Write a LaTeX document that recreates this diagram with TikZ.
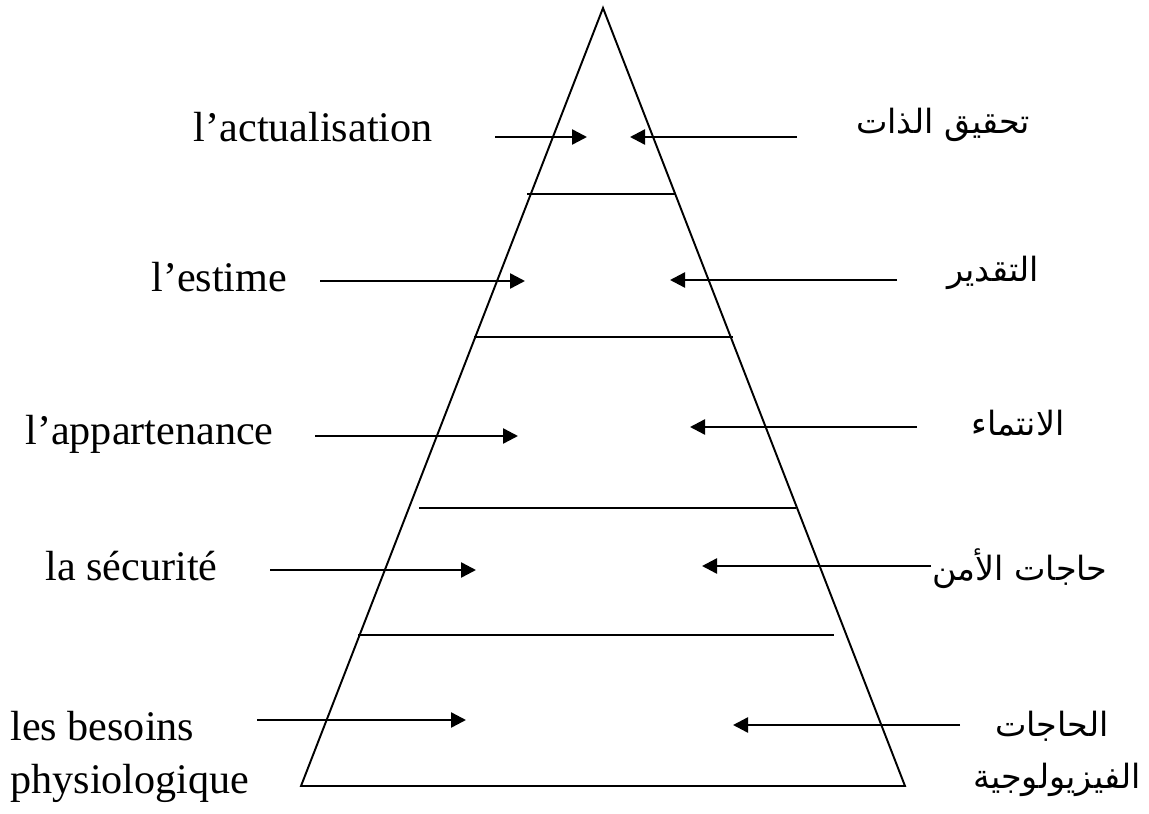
\documentclass[tikz,border=0pt]{standalone}
\usepackage{fontspec}
\setmainfont{Liberation Serif}
\newfontfamily\arabicfont[Script=Arabic]{DejaVu Sans}
\TeXXeTstate=1
\usetikzlibrary{arrows.meta}
\begin{document}
\begin{tikzpicture}[x=0.02cm,y=-0.02cm,
  edge/.style={line width=1.1pt},
  tier/.style={line width=1.2pt},
  pointer/.style={line width=1.4pt,-{Triangle[length=0.3cm,width=0.3cm]}},
  frlabel/.style={font=\fontsize{24}{28}\selectfont, inner sep=0pt},
  arlabel/.style={font=\arabicfont\fontsize{19}{24}\selectfont, inner sep=0pt}]
\useasboundingbox (0,0) rectangle (1149,814);

% pyramid outline
\coordinate (apex) at (603,8);
\coordinate (bl) at (301,786);
\coordinate (br) at (905,786);
\draw[edge] (apex) -- (bl) -- (br) -- cycle;

% separators between the levels
\coordinate (s1l) at (527,194); \coordinate (s1r) at (675,194);
\coordinate (s2l) at (474,337); \coordinate (s2r) at (733,337);
\coordinate (s3l) at (419,508); \coordinate (s3r) at (796,508);
\coordinate (s4l) at (358,635); \coordinate (s4r) at (834,635);
\draw[tier] (s1l) -- (s1r);
\draw[tier] (s2l) -- (s2r);
\draw[tier] (s3l) -- (s3r);
\draw[tier] (s4l) -- (s4r);

% French labels (left)
\node[frlabel, anchor=base east] (fr1) at (433,142) {l’actualisation};
\node[frlabel, anchor=base west] (fr2) at (151,291) {l’estime};
\node[frlabel, anchor=base west] (fr3) at (25,444) {l’appartenance};
\node[frlabel, anchor=base west] (fr4) at (45,580) {la sécurité};
\node[frlabel, anchor=base west] (fr5a) at (10,740) {les besoins};
\node[frlabel, anchor=base west] (fr5b) at (10,793) {physiologique};

% Arabic labels (right)
\node[arlabel] (ar1) at (943,125) {\beginR تحقيق الذات\endR};
\node[arlabel] (ar2) at (993,273) {\beginR التقدير\endR};
\node[arlabel] (ar3) at (1018,423) {\beginR الانتماء\endR};
\node[arlabel] (ar4) at (1020,569) {\beginR حاجات الأمن\endR};
\node[arlabel] (ar5a) at (1052,726) {\beginR الحاجات\endR};
\node[arlabel] (ar5b) at (1057,780) {\beginR الفيزيولوجية\endR};

% arrow ends
\coordinate (la1) at (495,137);  \coordinate (lt1) at (587,137);
\coordinate (ra1) at (797,137);  \coordinate (rt1) at (630,137);
\coordinate (la2) at (320,281);  \coordinate (lt2) at (525,281);
\coordinate (ra2) at (897,280);  \coordinate (rt2) at (670,280);
\coordinate (la3) at (315,436);  \coordinate (lt3) at (518,436);
\coordinate (ra3) at (917,427);  \coordinate (rt3) at (690,427);
\coordinate (la4) at (270,570);  \coordinate (lt4) at (476,570);
\coordinate (ra4) at (931,566);  \coordinate (rt4) at (702,566);
\coordinate (la5) at (257,720);  \coordinate (lt5) at (466,720);
\coordinate (ra5) at (960,725);  \coordinate (rt5) at (733,725);

\foreach \i in {1,...,5}{
  \draw[pointer] (la\i) -- (lt\i);
  \draw[pointer] (ra\i) -- (rt\i);
}
\end{tikzpicture}
\end{document}
